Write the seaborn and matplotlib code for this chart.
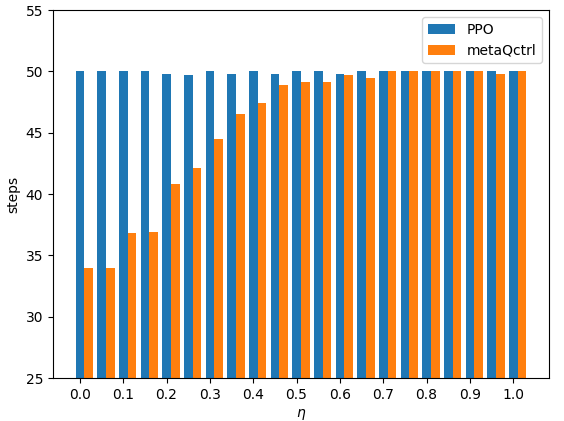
import matplotlib
matplotlib.use("Agg")
import matplotlib.pyplot as plt
import seaborn as sns
import pandas as pd
import numpy as np

eta = [0.0, 0.05, 0.1, 0.15, 0.2, 0.25, 0.3, 0.35, 0.4, 0.45, 0.5,
       0.55, 0.6, 0.65, 0.7, 0.75, 0.8, 0.85, 0.9, 0.95, 1.0]
ppo = [50, 50, 50, 50, 49.8, 49.7, 50, 49.8, 50, 49.8, 50,
       50, 49.8, 50, 50, 50, 50, 50, 50, 50, 50]
meta = [34.0, 34.0, 36.8, 36.9, 40.8, 42.1, 44.5, 46.5, 47.4, 48.9, 49.1,
        49.1, 49.7, 49.5, 50, 50, 50, 50, 50, 49.8, 50]
tick_vals = [0.0, 0.1, 0.2, 0.3, 0.4, 0.5, 0.6, 0.7, 0.8, 0.9, 1.0]
tick_labels = ["0.0", "0.1", "0.2", "0.3", "0.4", "0.5", "0.6", "0.7", "0.8", "0.9", "1.0"]

bar_w = 0.02
df_ppo = pd.DataFrame({"eta": eta, "steps": ppo})
df_meta = pd.DataFrame({"eta": np.array(eta) + bar_w, "steps": meta})

fig, ax = plt.subplots(figsize=(5.64, 4.21), dpi=100)
fig.subplots_adjust(left=0.094, right=0.973, top=0.976, bottom=0.102)

sns.barplot(data=df_ppo, x="eta", y="steps", native_scale=True, orient="x",
            width=0.4, color="#1f77b4", saturation=1, errorbar=None,
            label="PPO", ax=ax, linewidth=0)
sns.barplot(data=df_meta, x="eta", y="steps", native_scale=True, orient="x",
            width=0.4, color="#ff7f0e", saturation=1, errorbar=None,
            label="metaQctrl", ax=ax, linewidth=0)

ax.set_xlim(-0.062, 1.082)
ax.set_ylim(25, 55)
ax.set_xticks(tick_vals)
ax.set_xticklabels(tick_labels)
ax.set_yticks([25, 30, 35, 40, 45, 50, 55])
ax.set_xlabel(r"$\eta$")
ax.set_ylabel("steps")
ax.legend(loc="upper right")

fig.savefig("out.png", dpi=100)
